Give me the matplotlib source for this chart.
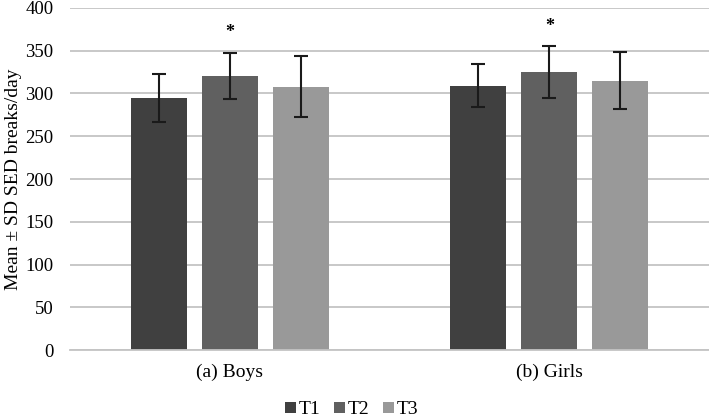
import numpy as np
import matplotlib.pyplot as plt

plt.rcParams['font.family'] = ['Liberation Serif', 'DejaVu Serif']

# Daten
grupos = ["(a) Boys", "(b) Girls"]
series = ["T1", "T2", "T3"]
medias = {"T1": [295, 309], "T2": [320, 325], "T3": [308, 315]}
de = {"T1": [28, 25], "T2": [27, 30], "T3": [36, 33]}
significativo = {"T2": [True, True]}
colores = {"T1": "#404040", "T2": "#606060", "T3": "#999999"}

fig = plt.figure(figsize=(7.09, 4.19), dpi=100)
ax = fig.add_axes([70 / 709, 1 - 350 / 419, 1 - 70 / 709, 342 / 419])

x = np.arange(len(grupos))
ancho = 0.175
paso = 0.222
for i, s in enumerate(series):
    pos = x + (i - 1) * paso
    ax.bar(pos, medias[s], ancho, color=colores[s], label=s, zorder=2)
    ax.errorbar(pos, medias[s], yerr=de[s], fmt="none", ecolor="#1a1a1a",
                elinewidth=1.5, capsize=5, capthick=1.5, zorder=3)
    if s in significativo:
        for j, flag in enumerate(significativo[s]):
            if flag:
                ax.text(pos[j], medias[s][j] + de[s][j] + 14, "*", ha="center",
                        va="bottom", fontsize=13, fontweight="bold")

ax.set_xlim(-0.5, 1.5)
ax.set_ylim(0, 400)
ax.set_yticks(range(0, 401, 50))
ax.set_xticks(x)
ax.set_xticklabels(grupos)
ax.yaxis.grid(True, color="#c4c4c4", linewidth=1.3, zorder=0)
ax.set_axisbelow(True)
for lado in ["top", "right", "left"]:
    ax.spines[lado].set_visible(False)
ax.spines["bottom"].set_color("#c4c4c4")
ax.spines["bottom"].set_linewidth(1.3)
ax.tick_params(axis="y", length=0, labelsize=13.5, pad=12)
ax.tick_params(axis="x", length=0, labelsize=14, pad=10)
ax.set_ylabel("Mean ± SD SED breaks/day", fontsize=14, labelpad=2)

fig.legend(loc="lower center", bbox_to_anchor=(352 / 709, -0.04), ncol=3,
           frameon=False, fontsize=14, handlelength=0.55, handleheight=0.55,
           handletextpad=0.15, columnspacing=0.7)

fig.savefig("out.png", dpi=100)
